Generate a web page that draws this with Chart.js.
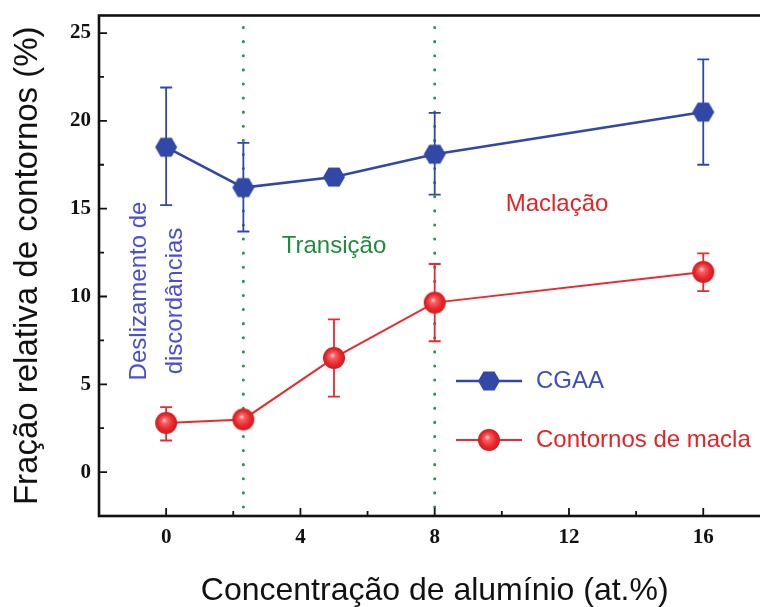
<!DOCTYPE html>
<html>
<head>
<meta charset="utf-8">
<script src="https://cdn.jsdelivr.net/npm/chart.js@4.4.0/dist/chart.umd.min.js"></script>
<style>
  html, body { margin: 0; padding: 0; background: #fff; overflow: hidden; }
  #wrap { width: 784px; height: 607px; }
</style>
</head>
<body>
<div id="wrap"><canvas id="chart" width="784" height="607"></canvas></div>
<script>
// data
const aluminio = [0, 2.3, 5, 8, 16];
const cgaa = [18.5, 16.2, 16.8, 18.1, 20.5];
const cgaaLow = [15.2, 13.7, 16.35, 15.8, 17.5];
const cgaaHigh = [21.9, 18.75, 17.25, 20.45, 23.5];
const macla = [2.8, 3.0, 6.5, 9.65, 11.4];
const maclaLow = [1.8, null, 4.3, 7.45, 10.3];
const maclaHigh = [3.7, null, 8.7, 11.85, 12.45];
const transicoes = [2.3, 8];
const xTicks = [0, 4, 8, 12, 16];
const yTicks = [0, 5, 10, 15, 20, 25];

const BLUE = '#3148a6';
const RED = '#ea2a2e';
const GREEN = '#1f9a4c';
const SANS = "'Liberation Sans', Arial, sans-serif";
const SERIF = "'Liberation Serif', 'Times New Roman', serif";

function hexagon(r, color) {
  const c = document.createElement('canvas');
  c.width = c.height = 2 * r + 2;
  const g = c.getContext('2d');
  g.beginPath();
  for (let i = 0; i < 6; i++) {
    const a = Math.PI / 3 * i;
    g.lineTo(r + 1 + r * Math.cos(a), r + 1 + r * Math.sin(a));
  }
  g.closePath();
  g.fillStyle = color;
  g.fill();
  return c;
}

function sphere(r) {
  const c = document.createElement('canvas');
  c.width = c.height = 2 * r + 2;
  const g = c.getContext('2d');
  const cx = r + 1;
  const grad = g.createRadialGradient(cx - 2, cx - 3, 0, cx, cx, r);
  grad.addColorStop(0, '#ffe0e0');
  grad.addColorStop(0.25, '#f76265');
  grad.addColorStop(0.7, '#e8262a');
  grad.addColorStop(1, '#cf1c20');
  g.beginPath();
  g.arc(cx, cx, r, 0, Math.PI * 2);
  g.fillStyle = grad;
  g.fill();
  return c;
}

const hexIcon = hexagon(11, BLUE);
const sphereIcon = sphere(11);

const toPoints = (ys) => aluminio.map((x, i) => ({ x: x, y: ys[i] }));

// dotted transition lines + error bars, under the series
const backdrop = {
  id: 'backdrop',
  beforeDatasetsDraw(chart) {
    const { ctx, chartArea, scales: { x, y } } = chart;
    ctx.save();
    ctx.strokeStyle = GREEN;
    ctx.lineWidth = 3;
    ctx.lineCap = 'round';
    ctx.setLineDash([0.1, 14]);
    transicoes.forEach(v => {
      const px = x.getPixelForValue(v);
      ctx.beginPath();
      ctx.moveTo(px, chartArea.top + 12);
      ctx.lineTo(px, chartArea.bottom);
      ctx.stroke();
    });
    ctx.restore();

    [[cgaaLow, cgaaHigh, BLUE], [maclaLow, maclaHigh, RED]].forEach(([lo, hi, col]) => {
      ctx.save();
      ctx.strokeStyle = col;
      ctx.lineWidth = 1.8;
      aluminio.forEach((v, i) => {
        if (lo[i] == null) return;
        const px = x.getPixelForValue(v);
        const y1 = y.getPixelForValue(lo[i]);
        const y2 = y.getPixelForValue(hi[i]);
        ctx.beginPath();
        ctx.moveTo(px, y1); ctx.lineTo(px, y2);
        ctx.moveTo(px - 6, y1); ctx.lineTo(px + 6, y1);
        ctx.moveTo(px - 6, y2); ctx.lineTo(px + 6, y2);
        ctx.stroke();
      });
      ctx.restore();
    });
  }
};

// box frame with inward ticks
const frame = {
  id: 'frame',
  afterDatasetsDraw(chart) {
    const { ctx, chartArea: a, scales: { x, y } } = chart;
    ctx.save();
    ctx.strokeStyle = '#111';
    ctx.lineWidth = 1.8;
    ctx.beginPath();
    xTicks.forEach((v, i) => {
      const px = x.getPixelForValue(v);
      ctx.moveTo(px, a.bottom); ctx.lineTo(px, a.bottom - 8);
      if (i < xTicks.length - 1) {
        const mx = x.getPixelForValue((v + xTicks[i + 1]) / 2);
        ctx.moveTo(mx, a.bottom); ctx.lineTo(mx, a.bottom - 5);
      }
    });
    yTicks.forEach((v, i) => {
      const py = y.getPixelForValue(v);
      ctx.moveTo(a.left, py); ctx.lineTo(a.left + 8, py);
      if (i < yTicks.length - 1) {
        const my = y.getPixelForValue((v + yTicks[i + 1]) / 2);
        ctx.moveTo(a.left, my); ctx.lineTo(a.left + 5, my);
      }
    });
    ctx.stroke();
    ctx.lineWidth = 2.6;
    ctx.strokeRect(a.left, a.top, a.right - a.left, a.bottom - a.top);
    ctx.restore();
  }
};

// region labels and the legend box
const notes = {
  id: 'notes',
  afterDraw(chart) {
    const { ctx } = chart;
    ctx.save();
    ctx.textBaseline = 'middle';
    ctx.textAlign = 'center';
    ctx.font = '24px ' + SANS;

    ctx.fillStyle = '#1e8c3c';
    ctx.fillText('Transição', 334, 246);
    ctx.fillStyle = '#e82224';
    ctx.fillText('Maclação', 557, 204);

    ctx.fillStyle = '#4a4fd0';
    ctx.save();
    ctx.translate(139, 291);
    ctx.rotate(-Math.PI / 2);
    ctx.fillText('Deslizamento de', 0, 0);
    ctx.restore();
    ctx.save();
    ctx.translate(175, 301);
    ctx.rotate(-Math.PI / 2);
    ctx.fillText('discordâncias', 0, 0);
    ctx.restore();

    const rows = [
      [chart.data.datasets[0], hexIcon, 381, '#3a4ec4'],
      [chart.data.datasets[1], sphereIcon, 440, '#e82224']
    ];
    rows.forEach(([ds, icon, ly, tc]) => {
      ctx.strokeStyle = ds.borderColor;
      ctx.lineWidth = ds.borderWidth;
      ctx.beginPath();
      ctx.moveTo(456, ly); ctx.lineTo(522, ly);
      ctx.stroke();
      ctx.drawImage(icon, 489 - icon.width / 2, ly - icon.height / 2);
      ctx.fillStyle = tc;
      ctx.textAlign = 'left';
      ctx.fillText(ds.label, 536, ly);
    });
    ctx.restore();
  }
};

new Chart(document.getElementById('chart'), {
  type: 'line',
  data: {
    datasets: [
      {
        label: 'CGAA',
        data: toPoints(cgaa),
        borderColor: BLUE,
        borderWidth: 2.6,
        pointStyle: hexIcon,
        pointRadius: 11
      },
      {
        label: 'Contornos de macla',
        data: toPoints(macla),
        borderColor: RED,
        borderWidth: 2,
        pointStyle: sphereIcon,
        pointRadius: 11
      }
    ]
  },
  options: {
    responsive: false,
    animation: false,
    layout: { padding: { top: 15.5, right: 5, left: 0, bottom: 0 } },
    plugins: { legend: { display: false }, tooltip: { enabled: false } },
    scales: {
      x: {
        type: 'linear',
        min: -2,
        max: 18,
        afterBuildTicks: s => { s.ticks = xTicks.map(v => ({ value: v })); },
        afterFit: s => { s.height = 91; s.paddingLeft = 0; s.paddingRight = 0; },
        grid: { display: false, drawTicks: false },
        border: { display: false },
        ticks: { color: '#111', padding: 9, font: { family: SERIF, size: 21, weight: 'bold' } },
        title: {
          display: true,
          text: 'Concentração de alumínio (at.%)',
          color: '#111',
          font: { family: SANS, size: 32, lineHeight: 1 },
          padding: { top: 0, bottom: 0 }
        }
      },
      y: {
        min: -2.5,
        max: 26,
        afterBuildTicks: s => { s.ticks = yTicks.map(v => ({ value: v })); },
        afterFit: s => { s.width = 99; s.paddingTop = 0; s.paddingBottom = 0; },
        grid: { display: false, drawTicks: false },
        border: { display: false },
        ticks: { color: '#111', padding: 8, font: { family: SERIF, size: 21, weight: 'bold' } },
        title: {
          display: true,
          text: 'Fração relativa de contornos (%)',
          color: '#111',
          font: { family: SANS, size: 33, lineHeight: 1 },
          padding: { top: 11, bottom: 0 }
        }
      }
    }
  },
  plugins: [backdrop, frame, notes]
});
</script>
</body>
</html>
